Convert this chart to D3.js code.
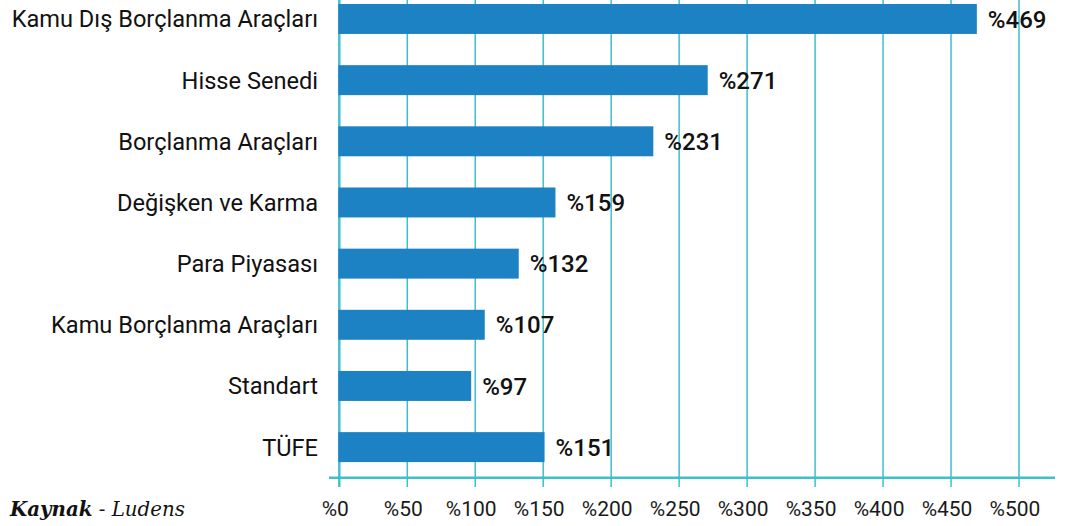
<!DOCTYPE html>
<html>
<head>
<meta charset="utf-8">
<script src="https://cdn.jsdelivr.net/npm/d3@7"></script>
<style>
  html, body { margin: 0; padding: 0; background: #fff; }
  svg { display: block; }
</style>
</head>
<body>
<svg id="chart" width="1065" height="526"></svg>
<script>
// ---- data ----
const categories = [
  "Kamu Dış Borçlanma Araçları",
  "Hisse Senedi",
  "Borçlanma Araçları",
  "Değişken ve Karma",
  "Para Piyasası",
  "Kamu Borçlanma Araçları",
  "Standart",
  "TÜFE"
];
const values = [469, 271, 231, 159, 132, 107, 97, 151];
const xTicks = [0, 50, 100, 150, 200, 250, 300, 350, 400, 450, 500];
const tickLabels = xTicks.map(t => "%" + t);
const sourceBold = "Kaynak";
const sourceRest = " - Ludens";

// ---- layout ----
const W = 1065, H = 526;
const svg = d3.select("#chart");
const gridColor = "#3fbfcc";
const barColor = "#1d82c4";
const axisY = 477.7;

const x = d3.scaleLinear().domain([0, 500]).range([339.3, 1019]);
const y = d3.scaleBand().domain(categories).range([-11.6, axisY])
  .paddingInner(0.51).paddingOuter(0.255);

// gridlines
svg.append("g").selectAll("line").data(xTicks).join("line")
  .attr("x1", d => x(d)).attr("x2", d => x(d))
  .attr("y1", 0).attr("y2", 487)
  .attr("stroke", gridColor)
  .attr("stroke-width", d => d === 0 ? 2.4 : 1.5);

// axis baseline
svg.append("line")
  .attr("x1", 329).attr("x2", 1055)
  .attr("y1", axisY).attr("y2", axisY)
  .attr("stroke", gridColor).attr("stroke-width", 2.6);

// bars
svg.append("g").selectAll("rect").data(values).join("rect")
  .attr("x", x(0) - 1)
  .attr("y", (d, i) => y(categories[i]))
  .attr("width", d => x(d) - x(0) + 1)
  .attr("height", y.bandwidth())
  .attr("fill", barColor);

// value labels
svg.append("g").selectAll("text").data(values).join("text")
  .attr("x", d => x(d) + 11)
  .attr("y", (d, i) => y(categories[i]) + y.bandwidth() / 2)
  .attr("dy", "0.36em")
  .attr("font-family", "Roboto, sans-serif")
  .attr("font-size", 24)
  .attr("font-weight", 500)
  .attr("fill", "#111")
  .text(d => "%" + d);

// category labels
svg.append("g").selectAll("text").data(categories).join("text")
  .attr("x", 318)
  .attr("y", d => y(d) + y.bandwidth() / 2)
  .attr("dy", "0.36em")
  .attr("text-anchor", "end")
  .attr("font-family", "Roboto, sans-serif")
  .attr("font-size", 23.6)
  .attr("fill", "#111")
  .text(d => d);

// tick labels
svg.append("g").selectAll("text").data(xTicks).join("text")
  .attr("x", d => x(d) - 4)
  .attr("y", 516)
  .attr("text-anchor", "middle")
  .attr("font-family", "Roboto, sans-serif")
  .attr("font-size", 21)
  .attr("fill", "#1a1a1a")
  .text((d, i) => tickLabels[i]);

// source
const src = svg.append("text")
  .attr("x", 10).attr("y", 516)
  .attr("font-family", "'DejaVu Serif', serif")
  .attr("font-style", "italic")
  .attr("font-size", 19.8)
  .attr("fill", "#111");
src.append("tspan").attr("font-weight", "bold").text(sourceBold);
src.append("tspan").text(sourceRest);
</script>
</body>
</html>
